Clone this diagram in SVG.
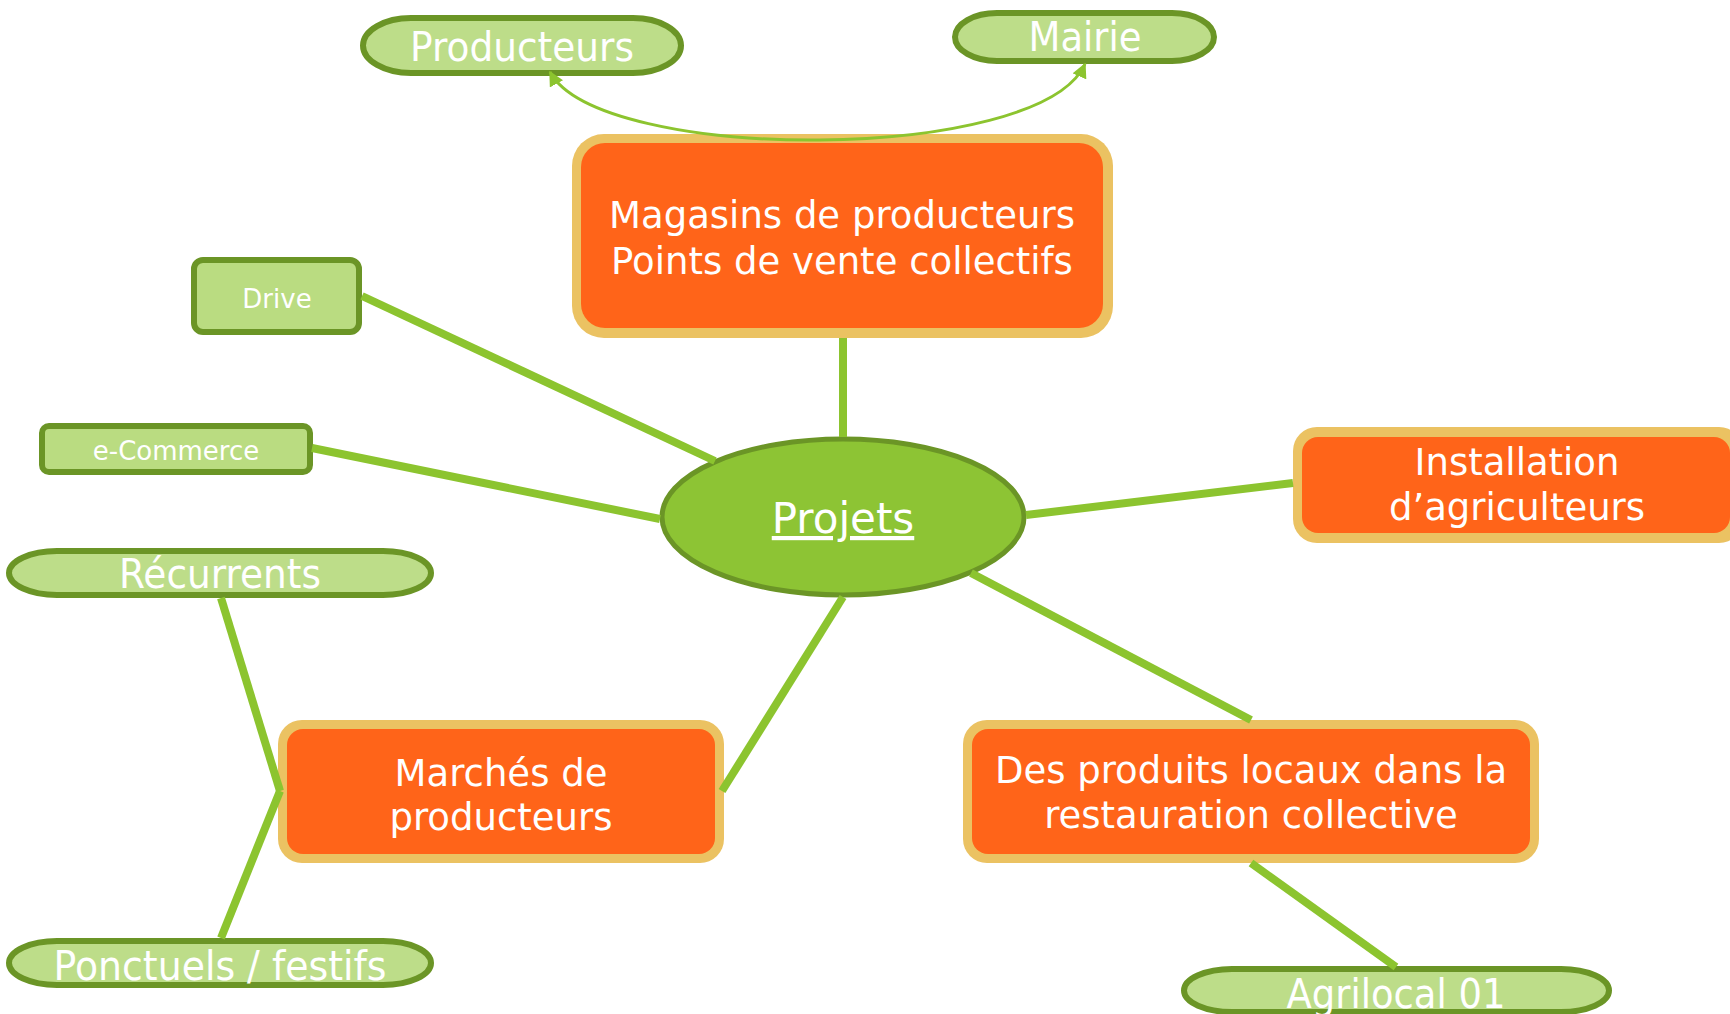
<svg xmlns="http://www.w3.org/2000/svg" width="1730" height="1014" viewBox="0 0 1730 1014">
<style>
text{font-family:"DejaVu Sans","Liberation Sans",sans-serif;fill:#ffffff;text-anchor:middle}
.gold{fill:#ebc262}
.orange{fill:#ff6419}
.main{font-size:37px}
.pill{fill:#bddd89;stroke:#6b9526;stroke-width:6}
.pilltxt{font-size:40px}
.box{fill:#badc81;stroke:#6b9526;stroke-width:6}
.small{font-size:26px}
.link{stroke:#8cc42f;stroke-width:8;fill:none}
.arc{stroke:#8cc42f;stroke-width:3;fill:none}
</style>
<defs>
<marker id="ah" viewBox="0 0 10 10" refX="9" refY="5" markerWidth="5" markerHeight="5" orient="auto-start-reverse" markerUnits="strokeWidth">
<path d="M0,0 L10,5 L0,10 z" fill="#8cc42f"/>
</marker>
</defs>
<rect width="1730" height="1014" fill="#ffffff"/>

<g id="node-projets">
<ellipse cx="843" cy="517" rx="181" ry="78" fill="#8dc434" stroke="#6b9526" stroke-width="5"/>
<text x="843" y="533" style="font-size:42px;text-decoration:underline">Projets</text>
</g>

<g id="node-magasins">
<rect class="gold" x="572" y="134" width="541" height="204" rx="32"/>
<rect class="orange" x="581" y="143" width="522" height="185" rx="24"/>
<text class="main" x="842" y="228">Magasins de producteurs</text>
<text class="main" x="842" y="274">Points de vente collectifs</text>
</g>

<g id="node-installation">
<rect class="gold" x="1293" y="427" width="450" height="116" rx="24"/>
<rect class="orange" x="1302" y="437" width="428" height="96" rx="16"/>
<text class="main" x="1517" y="475">Installation</text>
<text class="main" x="1517" y="520">d’agriculteurs</text>
</g>

<g id="node-marches">
<rect class="gold" x="278" y="720" width="446" height="143" rx="24"/>
<rect class="orange" x="287" y="729" width="428" height="125" rx="16"/>
<text class="main" x="501" y="786">Marchés de</text>
<text class="main" x="501" y="830">producteurs</text>
</g>

<g id="node-produits-locaux">
<rect class="gold" x="963" y="720" width="576" height="143" rx="24"/>
<rect class="orange" x="972" y="729" width="558" height="125" rx="16"/>
<text class="main" x="1251" y="783">Des produits locaux dans la</text>
<text class="main" x="1251" y="828">restauration collective</text>
</g>

<g id="node-drive">
<rect class="box" x="194" y="260" width="165" height="72" rx="9"/>
<text class="small" x="277" y="308">Drive</text>
</g>

<g id="node-ecommerce">
<rect class="box" x="42" y="426" width="268" height="46" rx="7"/>
<text class="small" x="176" y="460">e-Commerce</text>
</g>

<g id="node-producteurs">
<rect class="pill" x="363" y="18" width="318" height="55" rx="48" ry="27.5"/>
<text class="pilltxt" x="522" y="61" textLength="224" lengthAdjust="spacingAndGlyphs">Producteurs</text>
</g>

<g id="node-mairie">
<rect class="pill" x="955" y="13" width="259" height="48" rx="42" ry="24"/>
<text class="pilltxt" x="1085" y="51" textLength="113" lengthAdjust="spacingAndGlyphs">Mairie</text>
</g>

<g id="node-recurrents">
<rect class="pill" x="9" y="551" width="422" height="44" rx="48" ry="22"/>
<text class="pilltxt" x="220" y="588" textLength="202" lengthAdjust="spacingAndGlyphs">Récurrents</text>
</g>

<g id="node-ponctuels">
<rect class="pill" x="9" y="941" width="422" height="44" rx="48" ry="22"/>
<text class="pilltxt" x="220" y="980" textLength="333" lengthAdjust="spacingAndGlyphs">Ponctuels / festifs</text>
</g>

<g id="node-agrilocal">
<rect class="pill" x="1184" y="969" width="425" height="43" rx="48" ry="21.5"/>
<text class="pilltxt" x="1396" y="1008" textLength="219" lengthAdjust="spacingAndGlyphs">Agrilocal 01</text>
</g>

<g id="connectors">
<line class="link" x1="362" y1="296" x2="715" y2="461"/>
<line class="link" x1="312" y1="448" x2="660" y2="519"/>
<line class="link" x1="843" y1="338" x2="843" y2="437"/>
<line class="link" x1="1026" y1="515" x2="1293" y2="483"/>
<line class="link" x1="843" y1="597" x2="722" y2="791"/>
<line class="link" x1="971" y1="573" x2="1251" y2="720"/>
<line class="link" x1="1251" y1="863" x2="1396" y2="967"/>
<line class="link" x1="221" y1="598" x2="280" y2="791"/>
<line class="link" x1="221" y1="938" x2="280" y2="791"/>
<path class="arc" d="M550,72 C600,164 1040,164 1085,64" marker-start="url(#ah)" marker-end="url(#ah)"/>
</g>
</svg>
